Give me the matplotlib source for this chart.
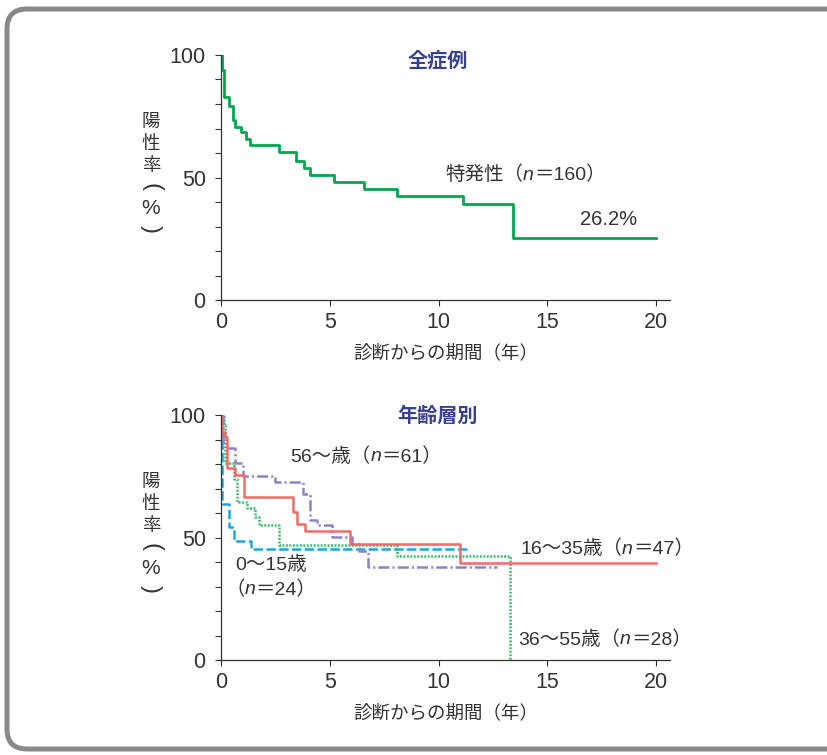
import matplotlib
matplotlib.use("Agg")
import matplotlib.pyplot as plt
from matplotlib.patches import FancyBboxPatch
from matplotlib.ticker import MultipleLocator

plt.rcParams['font.family'] = ['Noto Sans CJK JP', 'DejaVu Sans']
plt.rcParams['lines.scale_dashes'] = False

# ---- data: overall (idiopathic, n=160) ----
all_t = [0, 0.03, 0.15, 0.36, 0.57, 0.66, 0.9, 1.15, 1.33, 2.68, 3.45, 3.83, 4.09,
         5.2, 6.59, 8.08, 11.14, 13.44, 20]
all_s = [100, 93.9, 83, 79.3, 73.5, 70.5, 68.5, 65.6, 63.2, 60.3, 56.9, 54, 51,
         48, 45.2, 42.4, 39.2, 25.2, 25.2]

# ---- data: by age group ----
age0_t = [0, 0.02, 0.06, 0.37, 0.61, 1.36, 11.3]
age0_s = [100, 92, 63.5, 54.4, 48.7, 45.4, 45.4]

age16_t = [0, 0.06, 0.2, 0.26, 0.64, 1.07, 3.3, 3.5, 3.86, 5.93, 10.99, 20]
age16_s = [100, 93, 91, 78.5, 75.5, 66.5, 60.5, 55.5, 52.7, 47.2, 39.6, 39.6]

age36_t = [0, 0.15, 0.2, 0.62, 0.75, 1.2, 1.55, 1.75, 2.68, 8.08, 13.3, 13.3]
age36_s = [100, 96, 80.5, 74, 64.6, 62, 58.5, 55, 47, 42.4, 42.4, 0]

age56_t = [0, 0.1, 0.64, 1.03, 2.48, 3.75, 4.09, 4.4, 5.09, 6.0, 6.35, 6.77, 12.67]
age56_s = [100, 86.4, 80.4, 75.1, 72.6, 67.7, 57.1, 55.3, 50.3, 47.5, 44.5, 38.1, 38.1]

yticks = [0, 50, 100]
xticks = [0, 5, 10, 15, 20]

TXT = '#333333'
TITLE = '#384096'
LAT = ['Liberation Sans', 'Noto Sans CJK JP']

W, H = 827, 755
fig = plt.figure(figsize=(W / 100, H / 100), dpi=100)

# rounded frame
frame = FancyBboxPatch((7, 6), 850, 740, boxstyle="round,pad=0,rounding_size=20",
                       transform=None, facecolor='none', edgecolor='#88898b', linewidth=3.6)
fig.patches.append(frame)


def setup(ax, ylab_y):
    ax.set_xlim(0, 20.64)
    ax.set_ylim(0, 100)
    for s in ['top', 'right']:
        ax.spines[s].set_visible(False)
    for s in ['left', 'bottom']:
        ax.spines[s].set_color('#333333')
        ax.spines[s].set_linewidth(0.9)
    ax.set_yticks(yticks)
    ax.yaxis.set_minor_locator(MultipleLocator(10))
    ax.set_xticks(xticks)
    ax.tick_params(axis='both', which='both', direction='out', colors='#333333',
                   labelcolor=TXT, labelsize=15.5, width=0.8)
    ax.tick_params(axis='y', which='major', length=4, pad=7)
    ax.tick_params(axis='y', which='minor', length=4)
    ax.tick_params(axis='x', which='major', length=4, pad=5)
    for lab in ax.get_xticklabels() + ax.get_yticklabels():
        lab.set_family(LAT)
    ax.set_xlabel('診断からの期間（年）', fontsize=13.3, color=TXT, labelpad=8)
    ax.patch.set_alpha(0)
    # vertical y label: 陽性率（%）
    chars = ['陽', '性', '率', '(', '%', ')']
    offs = [-54, -32, -10, 11, 32, 53]
    for ch, o in zip(chars, offs):
        if ch in '()':
            fig.text(151 / W, 1 - (ylab_y + o) / H, ch, ha='center', va='center',
                     rotation=-90, fontsize=17, color=TXT, family=LAT,
                     fontweight='light')
        else:
            fam = LAT if ch == '%' else ['Noto Sans CJK JP', 'DejaVu Sans']
            fig.text(151 / W, 1 - (ylab_y + o) / H, ch, ha='center', va='center',
                     fontsize=15 if ch == '%' else 13.3, color=TXT, family=fam)


def rich(ax, x, y, parts, size=14):
    """Place consecutive text pieces; pieces marked italic use an italic Latin font."""
    prev = None
    for txt, ital in parts:
        kw = dict(fontsize=size, color=TXT, family=LAT, va='center',
                  style='italic' if ital else 'normal')
        if prev is None:
            prev = ax.text(x, y, txt, ha='left', **kw)
        else:
            prev = ax.annotate(txt, xy=(1, 0.5), xycoords=prev, ha='left', **kw)
    return prev


ax1 = fig.add_axes([221 / W, 1 - 300 / H, (670 - 221) / W, 245 / H])
ax2 = fig.add_axes([221 / W, 1 - 660 / H, (670 - 221) / W, 245 / H])
setup(ax1, 176)
setup(ax2, 536)

ax1.step(all_t, all_s, where='post', color='#00a650', lw=2.0)
ax1.text(9.95, 98, '全症例', ha='center', va='center', fontsize=14.5, fontweight='bold', color=TITLE)
rich(ax1, 10.3, 51, [('特発性（', False), ('n', True), ('＝160）', False)])
ax1.text(17.8, 32.7, '26.2%', ha='center', va='center', fontsize=14.5, color=TXT, family=LAT)

ax2.step(age0_t, age0_s, where='post', color='#1aa7e1', lw=1.8, linestyle=(0, (6.8, 2.4)))
ax2.step(age36_t, age36_s, where='post', color='#3cb96c', lw=1.8, linestyle=(0, (1.4, 1.1)))
ax2.step(age56_t, age56_s, where='post', color='#8a86c6', lw=1.8, linestyle=(0, (8, 2.2, 1.5, 2.2)))
ax2.step(age16_t, age16_s, where='post', color='#ef6b6b', lw=1.8)

ax2.text(9.95, 100, '年齢層別', ha='center', va='center', fontsize=14.5, fontweight='bold', color=TITLE)
rich(ax2, 3.17, 82.9, [('56～歳（', False), ('n', True), ('＝61）', False)])
ax2.text(0.64, 38.8, '0～15歳', ha='left', va='center', fontsize=14, color=TXT, family=LAT)
rich(ax2, 0.2, 28.6, [('（', False), ('n', True), ('＝24）', False)])
rich(ax2, 13.75, 45.3, [('16～35歳（', False), ('n', True), ('＝47）', False)])
rich(ax2, 13.66, 8.2, [('36～55歳（', False), ('n', True), ('＝28）', False)])

fig.savefig('out.png', dpi=100, facecolor='white')
